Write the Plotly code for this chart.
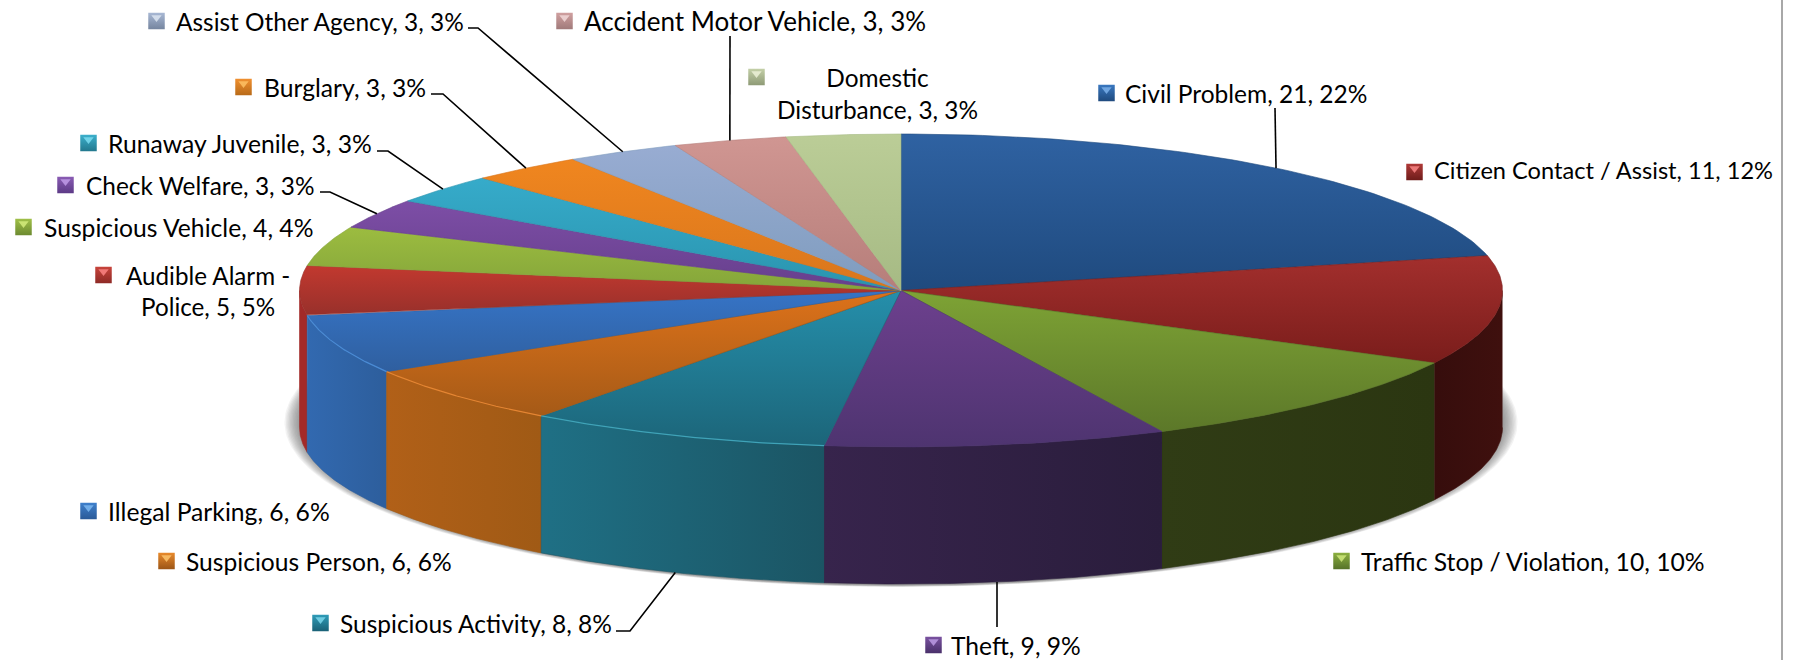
import numpy as np
import plotly.graph_objects as go

# ---- data ----
categories = ["Civil Problem", "Citizen Contact / Assist", "Traffic Stop / Violation", "Theft",
              "Suspicious Activity", "Suspicious Person", "Illegal Parking", "Audible Alarm - Police",
              "Suspicious Vehicle", "Check Welfare", "Runaway Juvenile", "Burglary",
              "Assist Other Agency", "Accident Motor Vehicle", "Domestic Disturbance"]
values = [21, 11, 10, 9, 8, 6, 6, 5, 4, 3, 3, 3, 3, 3, 3]
percents = [22, 12, 10, 9, 8, 6, 6, 5, 4, 3, 3, 3, 3, 3, 3]

# ---- styles ----
top_colors = [("#2f62a2", "#1f4a7e"), ("#a32f2d", "#7a1d1b"), ("#7ea335", "#5c7829"), ("#6d408e", "#4e3470"),
              ("#258fab", "#1c6579"), ("#dd721a", "#a55a17"), ("#3674c6", "#2f5f9f"), ("#c2392f", "#98302b"),
              ("#9cbc40", "#84a53a"), ("#7d4ea6", "#663f8c"), ("#36abca", "#2a94ae"), ("#f0861f", "#d9761c"),
              ("#98acd2", "#7f9cbe"), ("#d09692", "#b67e7a"), ("#bbcd97", "#a6ba84")]
wall_colors = [None, ("#3f100e", "#360d0c"), ("#2b3611", "#303c15"), ("#2a1d3c", "#37244c"),
               ("#1b5564", "#1f7085"), ("#a05a15", "#b16018"), ("#2d5e9c", "#3269b0"), ("#a32a28", "#a32a28"),
               None, None, None, None, None, None, None]
edge_colors = {4: "#3fa3b8", 5: "#e58532", 6: "#4a8bd5"}
key_colors = [("#3a78c0", "#1f4a7e"), ("#b03a38", "#6e1c1a"), ("#8cb040", "#56722a"), ("#7a52a0", "#49306a"),
              ("#2f9cb8", "#1a6176"), ("#e88a2c", "#9c5516"), ("#3f80cc", "#2a5a98"), ("#c8443c", "#8e2a26"),
              ("#a0c048", "#6c8a30"), ("#8a5cb4", "#5c3a86"), ("#3cb0cc", "#22788e"), ("#f09030", "#b86a18"),
              ("#a8b8d4", "#75859f"), ("#d0a0a0", "#a07a7a"), ("#c4d0a8", "#8e9a76")]
key_tri = ["#7fb4ee", "#ff8a8a", "#d4ee80", "#c0a0e8", "#80dcf0", "#ffc870", "#80bcf4", "#ff8888",
           "#d8f080", "#c4a0ec", "#80e0f4", "#ffc468", "#e0e8f4", "#f4dcdc", "#f0f4dc"]

# ---- layout (pixels) ----
W, H = 1795, 660
CX, CY, RX, RY, DEPTH = 901, 290.5, 601.5, 156.5, 137
FONT_FAMILY = "Lato, Carlito, Calibri, sans-serif"
label_sizes = [24.5, 23.6, 24.7, 24.6, 24.5, 24.6, 24.7, 24.2, 24.7, 24.4, 24.7, 24.7, 24.4, 26.0, 24.4]

# label layout, in slice order: text x, text y, key left, key centre y
label_pos = [(1124, 93, 1098, 93), (1433, 170, 1406, 172), (1360, 561, 1333, 561), (950, 645, 925, 645),
             (339, 623, 312, 623), (185, 561, 158, 561), (107, 511, 80, 511), (208, 291, 95, 275),
             (43, 227, 15, 227), (85, 185, 57, 185), (107, 143, 80, 143), (263, 87, 235, 87),
             (175, 21, 148, 21), (583, 21, 556, 21), (877, 93, 748, 77)]
label_breaks = {7: "Audible Alarm -<br>Police", 14: "Domestic<br>Disturbance"}
# leader lines: slice index -> fixed label-side points, last point is the slice rim
leaders = {0: [(1275, 108)], 3: [(997, 627)], 4: [(616, 631), (630, 631)],
           9: [(320, 192), (330, 192)], 10: [(377, 151), (388, 151)],
           11: [(431, 94), (443, 94)], 12: [(468, 28), (478, 28)], 13: [(730, 36)]}


def px(theta):
    return CX + RX * np.sin(theta)


def py(theta):
    return CY - RY * np.cos(theta)


total = sum(values)
cum = np.cumsum([0] + values) / total * 2 * np.pi
fig = go.Figure()

# soft shadow under the pie
for k in np.linspace(1, 0, 12):
    t = np.linspace(0, 2 * np.pi, 360)
    fig.add_trace(go.Scatter(x=CX + (RX + 15 * k) * np.sin(t), y=CY + DEPTH - 5 + (RY + 6 + 2 * k) * np.cos(t),
                             mode="lines", line=dict(width=0), fill="toself",
                             fillcolor="rgba(90,90,90,0.07)", hoverinfo="skip", showlegend=False))

# walls, only the part on the front half (pi/2 .. 3pi/2)
order = [1, 7, 2, 6, 3, 5, 4]
for i in order:
    a, b = max(cum[i], np.pi / 2), min(cum[i + 1], 3 * np.pi / 2)
    if b <= a or wall_colors[i] is None:
        continue
    t = np.linspace(a, b, 80)
    xs = np.r_[px(t), px(t[::-1])]
    ys = np.r_[py(t), py(t[::-1]) + DEPTH]
    c0, c1 = wall_colors[i]
    fig.add_trace(go.Scatter(x=xs, y=ys, mode="lines", line=dict(width=0.6, color=c0), fill="toself",
                             fillgradient=dict(type="horizontal", colorscale=[[0, c1], [1, c0]]),
                             hoverinfo="skip", showlegend=False))

# top face slices (y axis is reversed, so the light stop is listed last)
for i in range(len(values)):
    t = np.linspace(cum[i], cum[i + 1], 80)
    xs = np.r_[CX, px(t), CX]
    ys = np.r_[CY, py(t), CY]
    c0, c1 = top_colors[i]
    fig.add_trace(go.Scatter(x=xs, y=ys, mode="lines", line=dict(width=0.6, color=c1), fill="toself",
                             fillgradient=dict(type="vertical", colorscale=[[0, c1], [1, c0]]),
                             hoverinfo="skip", showlegend=False))

# thin highlight on the front rim
for i, col in edge_colors.items():
    t = np.linspace(cum[i], cum[i + 1], 80)
    fig.add_trace(go.Scatter(x=px(t), y=py(t), mode="lines", line=dict(width=1.2, color=col),
                             hoverinfo="skip", showlegend=False))

# leader lines, ending on the rim at the middle of each slice
for i, pts in leaders.items():
    m = (cum[i] + cum[i + 1]) / 2
    rim_y = py(m) + (DEPTH if np.cos(m) < 0 else 0)
    fig.add_trace(go.Scatter(x=[p[0] for p in pts] + [px(m)], y=[p[1] for p in pts] + [rim_y], mode="lines",
                             line=dict(width=1.6, color="#000000"), hoverinfo="skip", showlegend=False))

# legend keys and labels
for i, (lx, ly, kx, ky) in enumerate(label_pos):
    c0, c1 = key_colors[i]
    fig.add_trace(go.Scatter(x=[kx + 8.5], y=[ky], mode="markers",
                             marker=dict(symbol="square", size=16.5, color=c0, line=dict(width=0),
                                         gradient=dict(type="vertical", color=c1)),
                             hoverinfo="skip", showlegend=False))
    fig.add_trace(go.Scatter(x=[kx + 8.5], y=[ky - 3.5], mode="markers",
                             marker=dict(symbol="triangle-down", size=9, color=key_tri[i], opacity=0.8, line=dict(width=0)),
                             hoverinfo="skip", showlegend=False))
    name = label_breaks.get(i, categories[i])
    text = f"{name}, {values[i]}, {percents[i]}%"
    multi = i in label_breaks
    fig.add_annotation(x=lx, y=ly, text=text, showarrow=False,
                       font=dict(family=FONT_FAMILY, size=label_sizes[i], color="#000000"),
                       xanchor="center" if multi else "left", yanchor="middle", align="center",
                       xref="x", yref="y", borderpad=0)

fig.update_layout(
    width=W, height=H, margin=dict(l=0, r=0, t=0, b=0), paper_bgcolor="#ffffff", plot_bgcolor="#ffffff",
    xaxis=dict(range=[0, W], visible=False, fixedrange=True),
    yaxis=dict(range=[H, 0], visible=False, fixedrange=True),
    showlegend=False,
    shapes=[dict(type="line", x0=1782, x1=1782, y0=0, y1=H, xref="x", yref="y", line=dict(color="#a8a8a8", width=2))],
)
fig.write_html("out.html", config=dict(displayModeBar=False),
               post_script="document.body.style.margin='0';document.documentElement.style.overflow='hidden';")
